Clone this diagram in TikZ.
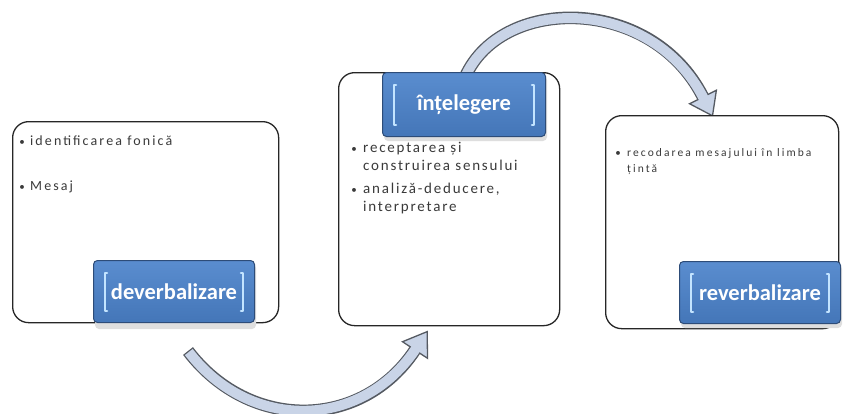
\documentclass[tikz,border=0pt]{standalone}
\usepackage{fontspec}
\setmainfont{Carlito}
\newfontfamily\leftfont[LetterSpace=15]{Carlito}
\newfontfamily\midfont[LetterSpace=12]{Carlito}
\newfontfamily\rightfont[LetterSpace=18]{Carlito}
\usetikzlibrary{calc}
\definecolor{labtop}{HTML}{5A8DCF}
\definecolor{labbot}{HTML}{4476B8}
\definecolor{labedge}{HTML}{2D4C78}
\definecolor{labbar}{HTML}{C3E4FF}
\definecolor{arrfill}{HTML}{C9D4E7}
\definecolor{arredge}{HTML}{555A62}
\definecolor{bodytext}{HTML}{3A3A3A}

% bracket bars inside a label box
\newcommand\labbrackets[1]{%
  \draw[labelbar] ($(#1.north west)+(14,13)$) -- ++(-2,0) -- ($(#1.south west)+(12,-12)$) -- ++(2,0);
  \draw[labelbar] ($(#1.north east)+(-14,13)$) -- ++(2,0) -- ($(#1.south east)+(-12,-12)$) -- ++(-2,0);
}

\begin{document}
\begin{tikzpicture}[x=1pt,y=-1pt,
  mainbox/.style={draw=black!85, line width=1.3pt, fill=white, rounded corners=16pt, inner sep=0pt},
  labelbox/.style={draw=labedge, line width=1pt, top color=labtop, bottom color=labbot,
     rounded corners=4pt, inner sep=0pt, text=white, font=\fontsize{22.5}{26}\selectfont\bfseries},
  labshadow/.style={fill=black!13, rounded corners=4pt},
  labelbar/.style={draw=labbar, line width=2.6pt, line cap=round, line join=round},
  bodyL/.style={text=bodytext, inner sep=0pt, font=\leftfont\fontsize{14}{17}\selectfont},
  bodyM/.style={text=bodytext, inner sep=0pt, font=\midfont\fontsize{15}{18}\selectfont},
  bodyR/.style={text=bodytext, inner sep=0pt, font=\rightfont\fontsize{11.5}{14}\selectfont},
  dot/.style={text=bodytext, inner sep=0pt, font=\fontsize{11}{12}\selectfont},
  arrband/.style={draw=arredge, line width=12.6pt, line cap=butt},
  arrcore/.style={draw=arrfill, line width=10pt, line cap=butt},
  arrhead/.style={fill=arrfill, draw=arredge, line width=1.3pt, line join=miter}
]
\useasboundingbox (0,0) rectangle (846,413);

% ---- curved arrows (drawn first so the boxes sit on top) ----
% lower arrow: from below the first box up to the second box
\coordinate (b0) at (188,351);
\coordinate (b3) at (415,350);
\coordinate (btip) at (427.2,331.6);
\coordinate (bc1) at ($(b3)!15pt!90:(btip)$);
\coordinate (bc2) at ($(b3)!15pt!-90:(btip)$);
\draw[arrband] (b0) .. controls (250,432) and (362,430) .. (b3);
\filldraw[arrhead] (bc1) -- (btip) -- (bc2) -- cycle;
\draw[arrcore, shorten <=1.3pt, shorten >=-2pt] (b0) .. controls (250,432) and (362,430) .. (b3);

% upper arrow: from the second box over to the third box
\coordinate (t0) at (462,85);
\coordinate (t3) at (703,97);
\coordinate (ttip) at (712.5,115.8);
\coordinate (tc1) at ($(t3)!15pt!90:(ttip)$);
\coordinate (tc2) at ($(t3)!15pt!-90:(ttip)$);
\draw[arrband] (t0) .. controls (492,-5) and (650,-8) .. (t3);
\filldraw[arrhead] (tc1) -- (ttip) -- (tc2) -- cycle;
\draw[arrcore, shorten >=-2pt] (t0) .. controls (492,-5) and (650,-8) .. (t3);

% ---- the three stage boxes ----
\node[mainbox, minimum width=266pt, minimum height=201pt, anchor=north west] (L) at (12,121) {};
\node[mainbox, minimum width=221pt, minimum height=253pt, anchor=north west] (M) at (338,72) {};
\node[mainbox, minimum width=233pt, minimum height=213pt, anchor=north west] (R) at (605,115) {};

% ---- box contents ----
\node[dot, anchor=base] (ld1) at (22,145) {•};
\node[bodyL, anchor=base west] (l1) at (30,145) {identificarea fonică};
\node[dot, anchor=base] (ld2) at (22,190) {•};
\node[bodyL, anchor=base west] (l2) at (30,190) {Mesaj};

\node[dot, anchor=base] (md1) at (354,152) {•};
\node[bodyM, anchor=base west] (m1) at (363,152) {receptarea și};
\node[bodyM, anchor=base west] (m2) at (363,170) {construirea sensului};
\node[dot, anchor=base] (md2) at (354,193) {•};
\node[bodyM, anchor=base west] (m3) at (363,193) {analiză-deducere,};
\node[bodyM, anchor=base west] (m4) at (363,211) {interpretare};

\node[dot, anchor=base] (rd1) at (618,156) {•};
\node[bodyR, anchor=base west] (r1) at (627,156) {recodarea mesajului în limba};
\node[bodyR, anchor=base west] (r2) at (627,172) {țintă};

% ---- stage labels ----
\fill[labshadow] (95,264) rectangle (256,329);
\fill[labshadow] (384,76) rectangle (547,141);
\fill[labshadow] (681,265) rectangle (842,328);

\node[labelbox, minimum width=161pt, minimum height=62pt, anchor=north west] (dev) at (93,260) {deverbalizare};
\node[labelbox, minimum width=163pt, minimum height=64pt, anchor=north west] (int) at (382,72) {înțelegere};
\node[labelbox, minimum width=161pt, minimum height=62pt, anchor=north west] (rev) at (679,261) {reverbalizare};
\labbrackets{dev}
\labbrackets{int}
\labbrackets{rev}
\end{tikzpicture}
\end{document}
